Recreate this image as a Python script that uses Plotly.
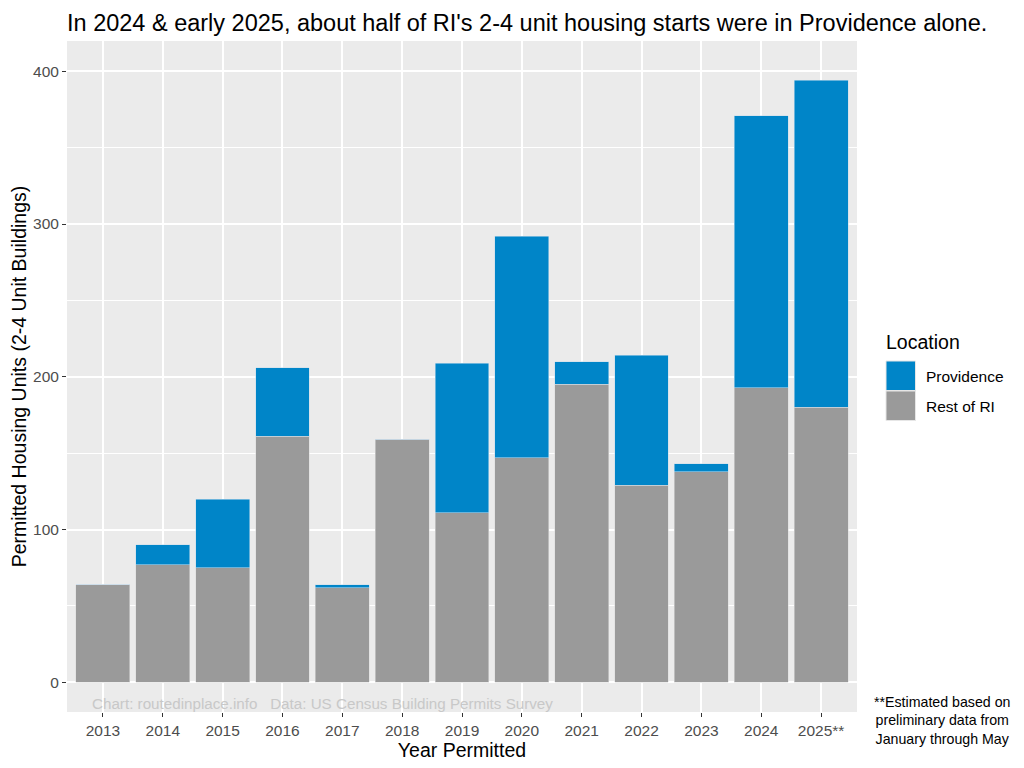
import plotly.graph_objects as go

years = ["2013", "2014", "2015", "2016", "2017", "2018", "2019", "2020", "2021", "2022", "2023", "2024", "2025**"]
rest_of_ri = [64, 77, 75, 161, 62, 159, 111, 147, 195, 129, 138, 193, 180]
providence = [0, 13, 45, 45, 2, 0, 98, 145, 15, 85, 5, 178, 214]

title_text = "In 2024 & early 2025, about half of RI's 2-4 unit housing starts were in Providence alone."
caption_text = "Chart: routedinplace.info   Data: US Census Building Permits Survey"
footnote_text = "**Estimated based on<br>preliminary data from<br>January through May"

BLUE = "#0085C8"
GREY = "#9A9A9A"
FONT = "Liberation Sans, Arial, sans-serif"

# page offset of the figure (default body margin)
OFF = 8

fig = go.Figure()
fig.add_trace(go.Bar(
    x=years, y=rest_of_ri, name="Rest of RI",
    marker=dict(color=GREY, line=dict(color="rgba(220,220,220,0.9)", width=0.6)),
    width=0.9, showlegend=False,
))
fig.add_trace(go.Bar(
    x=years, y=providence, name="Providence",
    marker=dict(color=BLUE, line=dict(color="rgba(200,220,235,0.9)", width=0.6)),
    width=0.9, showlegend=False,
))

fig.update_layout(
    barmode="stack",
    width=1024, height=768,
    margin=dict(l=67 - OFF, r=1024 - 857 + OFF, t=41 - OFF, b=768 - 712 + OFF, autoexpand=False),
    paper_bgcolor="white",
    plot_bgcolor="#EBEBEB",
    font=dict(family=FONT, color="#000000"),
    title=dict(text=title_text, x=(67 - OFF) / 1024, xanchor="left", y=1 - 15 / 768, yanchor="middle",
               font=dict(size=23.5, color="black", family=FONT)),
    xaxis=dict(
        type="category", range=[-0.6, 12.6], automargin=False,
        showgrid=True, gridcolor="white", gridwidth=1.5,
        ticks="outside", ticklen=4, tickcolor="#333333", tickwidth=1,
        tickfont=dict(size=15.5, color="#4D4D4D"),
        title=dict(text="Year Permitted", font=dict(size=19.5, color="black"), standoff=0),
        zeroline=False, showline=False,
    ),
    yaxis=dict(
        range=[-19.4, 419.8], automargin=False,
        tickvals=[0, 100, 200, 300, 400],
        showgrid=True, gridcolor="white", gridwidth=1.5,
        minor=dict(tickvals=[50, 150, 250, 350], showgrid=True, gridcolor="white", gridwidth=0.7, ticks=""),
        ticks="outside", ticklen=4, tickcolor="#333333", tickwidth=1,
        tickfont=dict(size=15.5, color="#4D4D4D"),
        title=dict(text="Permitted Housing Units (2-4 Unit Buildings)", font=dict(size=19.5, color="black"), standoff=4),
        zeroline=False, showline=False,
    ),
)

def px_x(px):
    return (px - 67) / 790

def px_y(py):
    return (712 - py) / 671

# caption inside the panel
fig.add_annotation(text=caption_text, xref="paper", yref="paper",
                   x=px_x(90), y=px_y(703), xanchor="left", yanchor="middle",
                   showarrow=False, font=dict(size=15.2, color="#C8C8C8", family=FONT))

# footnote at bottom right
fig.add_annotation(text=footnote_text, xref="paper", yref="paper",
                   x=px_x(942), y=px_y(720), xanchor="center", yanchor="middle",
                   align="center", showarrow=False,
                   font=dict(size=14.2, color="black", family=FONT))

# legend drawn in ggplot style
fig.add_annotation(text="Location", xref="paper", yref="paper",
                   x=px_x(884), y=px_y(342), xanchor="left", yanchor="middle",
                   showarrow=False, font=dict(size=19.5, color="black", family=FONT))
legend_items = [("Providence", BLUE, 361), ("Rest of RI", GREY, 391)]
for label, color, top in legend_items:
    fig.add_shape(type="rect", xref="paper", yref="paper",
                  x0=px_x(886), x1=px_x(915.5), y0=px_y(top), y1=px_y(top + 29.5),
                  fillcolor=color, line=dict(color="#E6E6E6", width=1))
    fig.add_annotation(text=label, xref="paper", yref="paper",
                       x=px_x(924), y=px_y(top + 15), xanchor="left", yanchor="middle",
                       showarrow=False, font=dict(size=15.5, color="black", family=FONT))

fig.write_html("out.html")
